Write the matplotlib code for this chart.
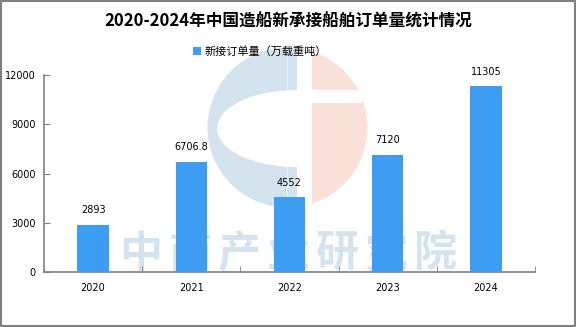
import numpy as np
import matplotlib
matplotlib.use('Agg')
from matplotlib import pyplot as plt
from matplotlib.patches import Rectangle, Wedge, Ellipse

plt.rcParams['font.family'] = ['Noto Sans CJK SC', 'DejaVu Sans']

# data
years = ['2020', '2021', '2022', '2023', '2024']
orders = [2893, 6706.8, 4552, 7120, 11305]
value_labels = ['2893', '6706.8', '4552', '7120', '11305']
yticks = [0, 3000, 6000, 9000, 12000]

title = '2020-2024年中国造船新承接船舶订单量统计情况'
legend_label = '新接订单量（万载重吨）'
watermark = '中商产业研究院'

bar_color = '#3d9df2'
spine_color = '#808080'

fig = plt.figure(figsize=(5.76, 3.27), dpi=100)
ax = fig.add_axes([0.0764, 0.1682, 0.8524, 0.6024])

# watermark (logo + text), behind the bars
wm = fig.add_axes([0, 0, 1, 1], zorder=0)
wm.set_xlim(0, 576)
wm.set_ylim(327, 0)
wm.axis('off')
blue_wm = '#d3e4ef'
peach_wm = '#fae2d8'
cx, cy, r = 287.5, 127.5, 80
# blue half with the C cut-out
wm.add_patch(Wedge((cx, cy), r, 90, 270, color=blue_wm, lw=0))
wm.add_patch(Rectangle((cx, cy - r + 1), 297 - cx, 2 * r - 2, color=blue_wm, lw=0))
wm.add_patch(Ellipse((297, 128.5), 160, 77, color='white', lw=0))
# peach half, clipped right of the gap
pw = Wedge((cx, cy), r, -90, 90, color=peach_wm, lw=0, zorder=2)
wm.add_patch(pw)
clip = Rectangle((312, 0), 300, 327, transform=wm.transData, visible=False)
wm.add_patch(clip)
pw.set_clip_path(clip)
wm.add_patch(Rectangle((312, 90), 50, 13, color='white', lw=0, zorder=3))
for i, ch in enumerate(watermark):
    wm.text(141 + i * 49, 254, ch, fontsize=31, color=blue_wm,
            ha='center', va='center', fontweight='bold', zorder=4)

ax.set_zorder(1)
ax.patch.set_alpha(0)

x = np.arange(len(years))
bars = ax.bar(x, orders, width=0.32, color=bar_color, label=legend_label, zorder=3)

for xi, v, lab in zip(x, orders, value_labels):
    ax.annotate(lab, (xi, v), xytext=(0, 7), textcoords='offset points',
                ha='center', va='bottom', fontsize=7, family='DejaVu Sans')

ax.set_xlim(-0.5, len(years) - 0.5)
ax.set_ylim(0, 12000)
ax.set_yticks(yticks)
ax.set_yticklabels([str(t) for t in yticks], fontsize=7, family='DejaVu Sans')
ax.set_xticks(x)
ax.set_xticklabels(years, fontsize=7, family='DejaVu Sans')
ax.set_xticks(np.arange(len(years) + 1) - 0.5, minor=True)
ax.tick_params(axis='x', which='major', length=0, pad=8)
ax.tick_params(axis='x', which='minor', direction='in', length=4, color=spine_color)
ax.tick_params(axis='y', direction='in', length=4, color=spine_color, pad=6)

for s in ['top', 'right']:
    ax.spines[s].set_visible(False)
for s in ['left', 'bottom']:
    ax.spines[s].set_color(spine_color)
    ax.spines[s].set_linewidth(1.2)

fig.text(0.5, 0.935, title, ha='center', va='center', fontsize=12, fontweight='bold')
ax.legend(loc='center', bbox_to_anchor=(0.44, 1.117), frameon=False, fontsize=8,
          handlelength=0.7, handleheight=0.7, handletextpad=0.3)

# outer border
fig.patches.append(Rectangle((0.001, 0.002), 0.997, 0.996, transform=fig.transFigure,
                             fill=False, edgecolor=spine_color, linewidth=1.5))

plt.savefig('out.png', dpi=100)
